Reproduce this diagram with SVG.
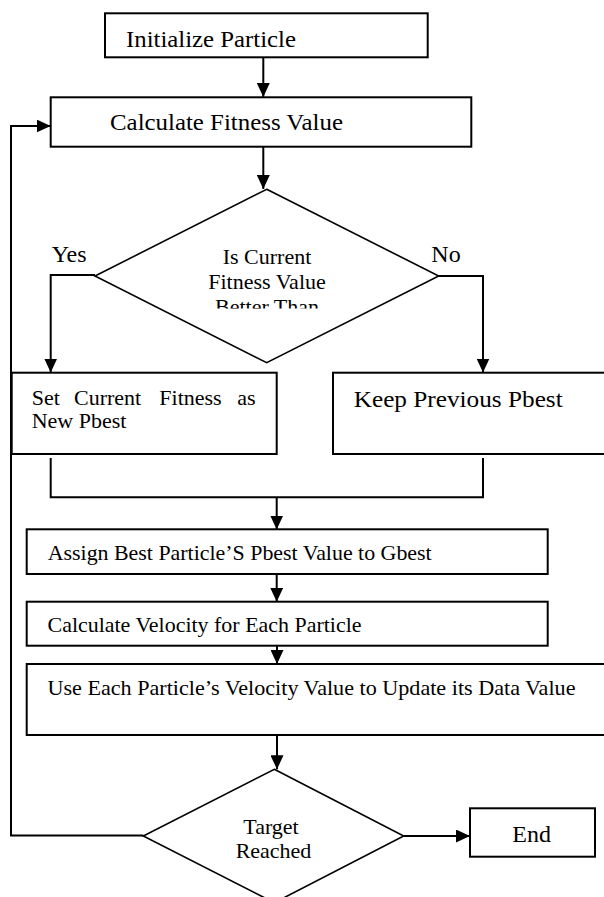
<svg xmlns="http://www.w3.org/2000/svg" width="604" height="897" viewBox="0 0 604 897">
<style>
.box{fill:#fff;stroke:#000;stroke-width:2}
.dia{fill:#fff;stroke:#000;stroke-width:1.6}
.con{fill:none;stroke:#000;stroke-width:2}
.arr{marker-end:url(#ah)}
text{font-family:"Liberation Serif","Times New Roman",serif;fill:#000}
.t24{font-size:24px}
.t22{font-size:22px}
.t21{font-size:21px}
.mid{text-anchor:middle}
</style>
<defs>
<marker id="ah" markerUnits="userSpaceOnUse" markerWidth="14" markerHeight="13" refX="14" refY="6.5" orient="auto">
<path d="M0,0 L14,6.5 L0,13 z" fill="#000"/>
</marker>
<clipPath id="dclip"><rect x="150" y="240" width="240" height="68.5"/></clipPath>
</defs>
<rect width="604" height="897" fill="#fff"/>

<g id="connectors">
<path class="con arr" d="M263.3,57.3 V97"/>
<path class="con arr" d="M263.3,146.7 V189"/>
<path class="con arr" d="M95,275 H50.7 V372.5"/>
<path class="con arr" d="M438.7,276 H483 V372.5"/>
<path class="con" d="M50.7,458 V497.3 H483 V458"/>
<path class="con arr" d="M276.7,497.3 V529.5"/>
<path class="con arr" d="M276.7,574 V601.7"/>
<path class="con arr" d="M277,645.7 V664"/>
<path class="con arr" d="M277,735 V769.3"/>
<path class="con arr" d="M403.7,836 H470"/>
<path class="con arr" d="M143.3,835.5 H11 V126 H50.7"/>
</g>

<g id="init">
<rect class="box" x="105" y="13.3" width="322.7" height="44"/>
<text class="t24" x="126" y="46.7" textLength="170" lengthAdjust="spacingAndGlyphs">Initialize Particle</text>
</g>

<g id="calcFitness">
<rect class="box" x="50.7" y="97.3" width="420.6" height="49.4"/>
<text class="t24" x="110" y="130" textLength="233" lengthAdjust="spacingAndGlyphs">Calculate Fitness Value</text>
</g>

<g id="decision1">
<polygon class="dia" points="266.7,189.3 438.7,276 266.7,362.7 95,276"/>
<g clip-path="url(#dclip)">
<text class="t22 mid" x="267" y="263.5">Is Current</text>
<text class="t22 mid" x="267" y="288.5">Fitness Value</text>
<text class="t22 mid" x="267" y="313.5">Better Than</text>
</g>
</g>

<g id="labelYes"><text class="t24" x="51.7" y="261.7">Yes</text></g>
<g id="labelNo"><text class="t24" x="431.3" y="261.7">No</text></g>

<g id="setPbest">
<rect class="box" x="11.7" y="372.7" width="265" height="81.3"/>
<text class="t22" y="405"><tspan x="31.7">Set</tspan><tspan x="74">Current</tspan><tspan x="159.3">Fitness</tspan><tspan x="237.3">as</tspan></text>
<text class="t22" x="31.7" y="428.3">New Pbest</text>
</g>

<g id="keepPbest">
<rect class="box" x="333" y="372.7" width="280" height="81.3"/>
<text class="t24" x="353.7" y="406.7" textLength="209" lengthAdjust="spacingAndGlyphs">Keep Previous Pbest</text>
</g>

<g id="assignGbest">
<rect class="box" x="26.7" y="529.3" width="521" height="44.7"/>
<text class="t21" x="47.7" y="560" textLength="384" lengthAdjust="spacingAndGlyphs">Assign Best Particle’S Pbest Value to Gbest</text>
</g>

<g id="calcVelocity">
<rect class="box" x="26.7" y="601.7" width="521" height="44"/>
<text class="t21" x="47.5" y="632.3" textLength="314" lengthAdjust="spacingAndGlyphs">Calculate Velocity for Each Particle</text>
</g>

<g id="updateValue">
<rect class="box" x="26.7" y="664" width="590" height="71"/>
<text class="t21" x="47.5" y="695" textLength="528" lengthAdjust="spacingAndGlyphs">Use Each Particle’s Velocity Value to Update its Data Value</text>
</g>

<g id="decision2">
<polygon class="dia" points="274.3,769.3 403.7,836 274.3,902.7 143.3,836"/>
<text class="t22 mid" x="271" y="834">Target</text>
<text class="t22 mid" x="273.5" y="858.3">Reached</text>
</g>

<g id="end">
<rect class="box" x="470" y="808.3" width="125" height="48.4"/>
<text class="t24" x="512.3" y="841.7">End</text>
</g>
</svg>
